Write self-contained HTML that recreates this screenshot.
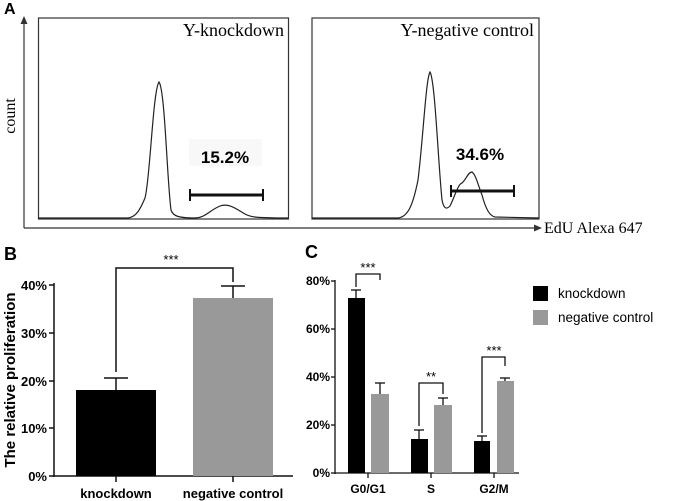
<!DOCTYPE html>
<html><head><style>body{margin:0;background:#fff}svg{display:block}</style></head><body>
<svg width="685" height="501" viewBox="0 0 685 501" xmlns="http://www.w3.org/2000/svg">
<g font-family="Liberation Sans, sans-serif">
<text x="4" y="14" font-size="16" font-weight="bold">A</text>
<line x1="24" y1="228" x2="24" y2="22" stroke="#333" stroke-width="1.2"/>
<polygon points="24,16 20.5,24 27.5,24" fill="#333"/>
<line x1="24" y1="228" x2="536" y2="228" stroke="#333" stroke-width="1.2"/>
<polygon points="542,228 534,224.5 534,231.5" fill="#333"/>
<text x="544" y="233" font-family="Liberation Serif, serif" font-size="16">EdU Alexa 647</text>
<text transform="translate(15,116) rotate(-90)" text-anchor="middle" font-family="Liberation Serif, serif" font-size="16">count</text>
<rect x="38.5" y="18" width="250" height="201" fill="none" stroke="#333" stroke-width="1.2"/>
<rect x="312" y="18" width="227" height="201" fill="none" stroke="#333" stroke-width="1.2"/>
<text x="284" y="36" text-anchor="end" font-family="Liberation Serif, serif" font-size="18">Y-knockdown</text>
<text x="534" y="36" text-anchor="end" font-family="Liberation Serif, serif" font-size="18">Y-negative control</text>
<path d="M38,218 L128,218 C136,217 140,210 145,198 C150,180 153,90 159,82 C165,90 167,180 171,210 C173,216 178,218 195,218 C205,218 210,210 220,206 C228,203 235,208 245,214 C250,217 255,218 288,218" fill="none" stroke="#222" stroke-width="1.2"/>
<path d="M312,218 L398,218 C408,217 413,205 418,180 C423,140 426,78 430,72 C435,80 438,160 442,200 C444,210 447,209 450,206 C455,196 458,184 462,183 C466,180 468,172 472,172 C476,175 478,185 482,195 C486,210 490,216 495,217 L539,218" fill="none" stroke="#222" stroke-width="1.2"/>
<rect x="189" y="139" width="73" height="27" fill="#f8f8f8"/>
<text x="225" y="163" text-anchor="middle" font-size="17" font-weight="bold">15.2%</text>
<text x="480" y="160" text-anchor="middle" font-size="17" font-weight="bold">34.6%</text>
<g stroke="#111" stroke-width="3"><line x1="190" y1="195" x2="263" y2="195"/><line x1="451" y1="191" x2="514" y2="191"/></g>
<g stroke="#111" stroke-width="2"><line x1="190" y1="189" x2="190" y2="201"/><line x1="263" y1="189" x2="263" y2="201"/><line x1="451" y1="185" x2="451" y2="197"/><line x1="514" y1="185" x2="514" y2="197"/></g>

<text x="4" y="260" font-size="18" font-weight="bold">B</text>
<text transform="translate(15,380) rotate(-90)" text-anchor="middle" font-size="15" font-weight="bold">The relative proliferation</text>
<g stroke="#111" stroke-width="1.5">
<line x1="54" y1="283" x2="54" y2="477"/><line x1="54" y1="476" x2="293" y2="476"/>
<line x1="49" y1="285" x2="54" y2="285"/><line x1="49" y1="333" x2="54" y2="333"/><line x1="49" y1="381" x2="54" y2="381"/><line x1="49" y1="428" x2="54" y2="428"/><line x1="49" y1="476" x2="54" y2="476"/>
<line x1="116" y1="476" x2="116" y2="482"/><line x1="233" y1="476" x2="233" y2="482"/>
</g>
<g font-size="13" font-weight="bold" text-anchor="end"><text x="47" y="290">40%</text><text x="47" y="338">30%</text><text x="47" y="386">20%</text><text x="47" y="433">10%</text><text x="47" y="481">0%</text></g>
<rect x="76" y="390" width="80" height="86" fill="#000"/>
<rect x="193" y="298" width="80" height="178" fill="#999"/>
<g stroke="#111" stroke-width="1.5" fill="none">
<line x1="116" y1="390" x2="116" y2="378"/><line x1="104" y1="378" x2="128" y2="378"/>
<line x1="233" y1="298" x2="233" y2="286"/><line x1="221" y1="286" x2="245" y2="286"/>
<polyline points="116,372 116,268 233,268 233,282"/>
</g>
<text x="171" y="264" text-anchor="middle" font-size="13">***</text>
<g font-size="13" font-weight="bold" text-anchor="middle"><text x="116" y="498">knockdown</text><text x="233" y="498">negative control</text></g>

<text x="305" y="258" font-size="18" font-weight="bold">C</text>
<g stroke="#111" stroke-width="1.3">
<line x1="335" y1="280" x2="335" y2="474"/><line x1="335" y1="473" x2="519" y2="473"/>
<line x1="331" y1="281" x2="335" y2="281"/><line x1="331" y1="329" x2="335" y2="329"/><line x1="331" y1="377" x2="335" y2="377"/><line x1="331" y1="425" x2="335" y2="425"/><line x1="331" y1="473" x2="335" y2="473"/>
<line x1="368" y1="473" x2="368" y2="478"/><line x1="431" y1="473" x2="431" y2="478"/><line x1="494" y1="473" x2="494" y2="478"/>
</g>
<g font-size="12" font-weight="bold" text-anchor="end"><text x="330" y="285">80%</text><text x="330" y="333">60%</text><text x="330" y="381">40%</text><text x="330" y="429">20%</text><text x="330" y="477">0%</text></g>
<g font-size="12" font-weight="bold" text-anchor="middle"><text x="368" y="493">G0/G1</text><text x="431" y="493">S</text><text x="494" y="493">G2/M</text></g>
<rect x="348" y="298" width="17" height="175" fill="#000"/>
<rect x="371" y="394" width="18" height="79" fill="#999"/>
<rect x="411" y="439" width="17" height="34" fill="#000"/>
<rect x="434" y="405" width="18" height="68" fill="#999"/>
<rect x="474" y="441" width="16" height="32" fill="#000"/>
<rect x="497" y="381" width="17" height="92" fill="#999"/>
<g stroke="#111" stroke-width="1.3" fill="none">
<line x1="356" y1="298" x2="356" y2="290"/><line x1="351" y1="290" x2="361" y2="290"/>
<line x1="380" y1="394" x2="380" y2="383"/><line x1="375" y1="383" x2="385" y2="383"/>
<line x1="419" y1="439" x2="419" y2="430"/><line x1="414" y1="430" x2="424" y2="430"/>
<line x1="443" y1="405" x2="443" y2="398"/><line x1="438" y1="398" x2="448" y2="398"/>
<line x1="482" y1="441" x2="482" y2="436"/><line x1="477" y1="436" x2="487" y2="436"/>
<line x1="505" y1="381" x2="505" y2="378"/><line x1="500" y1="378" x2="510" y2="378"/>
<polyline points="356,287 356,274 380,274 380,280"/>
<polyline points="419,426 419,383 443,383 443,394"/>
<polyline points="482,433 482,357 505,357 505,366"/>
</g>
<g font-size="13" text-anchor="middle"><text x="368" y="272">***</text><text x="431" y="381">**</text><text x="494" y="355">***</text></g>
<rect x="533" y="286" width="15" height="15" fill="#000"/>
<rect x="533" y="310" width="15" height="15" fill="#999"/>
<g font-size="13.5"><text x="558" y="298">knockdown</text><text x="558" y="322">negative control</text></g>
</g>
</svg>
</body></html>
